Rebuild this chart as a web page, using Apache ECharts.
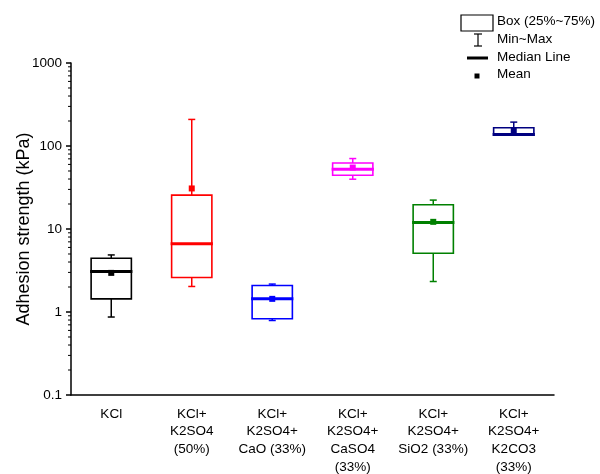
<!DOCTYPE html>
<html>
<head>
<meta charset="utf-8">
<script src="https://cdn.jsdelivr.net/npm/echarts@6/dist/echarts.min.js"></script>
<style>html,body{margin:0;padding:0;background:#fff;}#chart{width:600px;height:474px;}</style>
</head>
<body>
<div id="chart"></div>
<script>
const categories = ['KCl', 'KCl+\nK2SO4\n(50%)', 'KCl+\nK2SO4+\nCaO (33%)', 'KCl+\nK2SO4+\nCaSO4\n(33%)', 'KCl+\nK2SO4+\nSiO2 (33%)', 'KCl+\nK2SO4+\nK2CO3\n(33%)'];
const minVals    = [0.87, 2.03, 0.79, 39.8, 2.33, 136];
const q1Vals     = [1.44, 2.60, 0.83, 44.5, 5.1, 136];
const medianVals = [3.07, 6.66, 1.44, 52.6, 12.0, 138];
const q3Vals     = [4.45, 25.6, 2.09, 62.5, 19.6, 166];
const maxVals    = [4.87, 209, 2.17, 70.6, 22.3, 194];
const meanVals   = [2.96, 30.8, 1.44, 55.0, 12.2, 154];
const colors     = ['#000000', '#ff0000', '#0000ff', '#ff00ff', '#008000', '#000080'];
const yTickLabels = [0.1, 1, 10, 100, 1000];

const FONT = 'Liberation Sans, Arial, sans-serif';
const boxData = categories.map((c, i) => [i, minVals[i], q1Vals[i], medianVals[i], q3Vals[i], maxVals[i], meanVals[i]]);

// minor ticks on log axis (2..9 within each decade)
const minorTicks = [];
for (let d = 0; d < yTickLabels.length - 1; d++) {
  for (let k = 2; k <= 9; k++) minorTicks.push([0, +(yTickLabels[d] * k).toPrecision(3)]);
}

const chart = echarts.init(document.getElementById('chart'), null, {renderer: 'canvas'});
chart.setOption({
  animation: false,
  backgroundColor: '#fff',
  textStyle: {fontFamily: FONT},
  grid: {left: 71, right: 46, top: 63, bottom: 79, containLabel: false, outerBoundsMode: 'none'},
  xAxis: {
    type: 'category',
    data: categories,
    boundaryGap: true,
    axisLine: {lineStyle: {color: '#000', width: 1.5}},
    axisTick: {alignWithLabel: true, length: 6, lineStyle: {color: '#000', width: 1.5}},
    axisLabel: {color: '#000', fontSize: 13.5, fontFamily: FONT, lineHeight: 17.7, margin: 10, interval: 0},
    splitLine: {show: false}
  },
  yAxis: {
    type: 'log',
    logBase: 10,
    min: 0.1,
    max: 1000,
    name: 'Adhesion strength (kPa)',
    nameLocation: 'middle',
    nameGap: 38,
    nameMoveOverlap: false,
    nameTextStyle: {color: '#000', fontSize: 18, fontFamily: FONT},
    axisLine: {show: true, lineStyle: {color: '#000', width: 1.5}},
    axisTick: {show: true, length: 5, lineStyle: {color: '#000', width: 1.5}},
    axisLabel: {color: '#000', fontSize: 13.5, fontFamily: FONT, margin: 9,
      formatter: v => { const r = yTickLabels.find(t => Math.abs(t - v) / t < 1e-6); return r !== undefined ? String(r) : ''; }},
    splitLine: {show: false}
  },
  series: [
    {
      type: 'custom',
      clip: false,
      silent: true,
      data: minorTicks,
      encode: {x: 0, y: 1},
      renderItem: function (params, api) {
        const p = api.coord([0, api.value(1)]);
        const x0 = params.coordSys.x;
        return {type: 'line', shape: {x1: x0 - 3, y1: p[1], x2: x0, y2: p[1]}, style: {stroke: '#000', lineWidth: 1}};
      }
    },
    {
      type: 'custom',
      clip: false,
      data: boxData,
      encode: {x: 0, y: [1, 2, 3, 4, 5, 6]},
      renderItem: function (params, api) {
        const i = api.value(0);
        const col = colors[params.dataIndex];
        const pMin = api.coord([i, api.value(1)]);
        const pQ1 = api.coord([i, api.value(2)]);
        const pMed = api.coord([i, api.value(3)]);
        const pQ3 = api.coord([i, api.value(4)]);
        const pMax = api.coord([i, api.value(5)]);
        const pMean = api.coord([i, api.value(6)]);
        const band = api.size([1, 1])[0];
        const hw = band * 0.25;
        const cx = pMed[0];
        const cap = 3.5;
        const ls = {stroke: col, lineWidth: 1.5, fill: null};
        return {
          type: 'group',
          children: [
            {type: 'line', shape: {x1: cx, y1: pMax[1], x2: cx, y2: pQ3[1]}, style: ls},
            {type: 'line', shape: {x1: cx, y1: pQ1[1], x2: cx, y2: pMin[1]}, style: ls},
            {type: 'line', shape: {x1: cx - cap, y1: pMax[1], x2: cx + cap, y2: pMax[1]}, style: ls},
            {type: 'line', shape: {x1: cx - cap, y1: pMin[1], x2: cx + cap, y2: pMin[1]}, style: ls},
            {type: 'rect', shape: {x: cx - hw, y: pQ3[1], width: 2 * hw, height: pQ1[1] - pQ3[1]}, style: {stroke: col, lineWidth: 1.6, fill: 'rgba(255,255,255,0)'}},
            {type: 'line', shape: {x1: cx - hw - 1, y1: pMed[1], x2: cx + hw + 1, y2: pMed[1]}, style: {stroke: col, lineWidth: 3}},
            {type: 'rect', shape: {x: cx - 3, y: pMean[1] - 3, width: 6, height: 6}, style: {fill: col, stroke: null}}
          ]
        };
      }
    }
  ],
  graphic: [
    {type: 'rect', shape: {x: 461, y: 15, width: 32, height: 16}, style: {stroke: '#000', lineWidth: 1.2, fill: '#fff'}},
    {type: 'text', left: 497, top: 14, style: {text: 'Box (25%~75%)', font: '13.5px ' + FONT, fill: '#000'}},
    {type: 'line', shape: {x1: 478, y1: 34, x2: 478, y2: 46}, style: {stroke: '#000', lineWidth: 1.2}},
    {type: 'line', shape: {x1: 474, y1: 34, x2: 482, y2: 34}, style: {stroke: '#000', lineWidth: 1.2}},
    {type: 'line', shape: {x1: 474, y1: 46, x2: 482, y2: 46}, style: {stroke: '#000', lineWidth: 1.2}},
    {type: 'text', left: 497, top: 32, style: {text: 'Min~Max', font: '13.5px ' + FONT, fill: '#000'}},
    {type: 'line', shape: {x1: 467, y1: 58, x2: 488, y2: 58}, style: {stroke: '#000', lineWidth: 3}},
    {type: 'text', left: 497, top: 50, style: {text: 'Median Line', font: '13.5px ' + FONT, fill: '#000'}},
    {type: 'rect', shape: {x: 474.5, y: 73.5, width: 5, height: 5}, style: {fill: '#000'}},
    {type: 'text', left: 497, top: 67, style: {text: 'Mean', font: '13.5px ' + FONT, fill: '#000'}}
  ]
});
</script>
</body>
</html>
